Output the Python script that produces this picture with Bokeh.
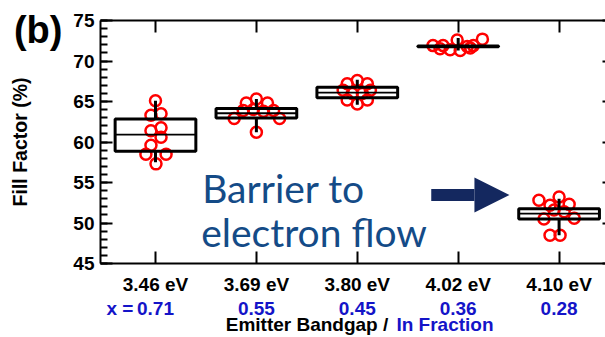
import numpy as np
from bokeh.plotting import figure
from bokeh.models import (Range1d, LinearAxis, FixedTicker, Label,
                          ColumnDataSource, Arrow, NormalHead, CustomJSTickFormatter)
from bokeh.embed import file_html
from bokeh.resources import INLINE

# ---------------- data ----------------
bandgaps = ["3.46 eV", "3.69 eV", "3.80 eV", "4.02 eV", "4.10 eV"]
in_fraction = ["0.71", "0.55", "0.45", "0.36", "0.28"]
positions = [1, 2, 3, 4, 5]

ff_346 = [65.1, 63.3, 63.5, 61.4, 61.75, 60.6, 59.6, 58.5, 58.5, 57.3]
jit_346 = [0.0, -0.045, 0.055, -0.045, 0.055, 0.055, -0.045, -0.095, 0.105, 0.005]
ff_369 = [65.3, 64.8, 64.8, 63.9, 64.0, 63.8, 63.9, 62.9, 62.9, 61.2]
jit_369 = [0.0, -0.10, 0.11, -0.13, -0.03, 0.07, 0.17, -0.22, 0.23, 0.0]
ff_380 = [67.6, 67.2, 67.2, 66.4, 66.4, 66.0, 66.0, 65.2, 65.2, 64.7]
jit_380 = [0.0, -0.10, 0.10, -0.14, 0.13, -0.05, 0.05, -0.10, 0.10, 0.0]
ff_402 = [72.6, 72.7, 71.9, 71.9, 71.8, 71.9, 71.5, 71.4, 71.3, 71.6]
jit_402 = [-0.01, 0.24, -0.25, -0.15, 0.09, 0.15, -0.18, -0.08, 0.02, 0.12]
ff_410 = [53.2, 52.8, 52.2, 52.3, 51.6, 51.4, 50.5, 50.6, 48.5, 48.5]
jit_410 = [0.0, -0.20, -0.09, 0.10, -0.05, 0.05, -0.15, 0.15, -0.09, 0.01]

q1 = [58.85, 62.95, 65.45, 71.75, 50.5]
median = [60.9, 63.55, 66.1, 71.8, 51.15]
q3 = [62.85, 64.15, 66.75, 71.85, 51.75]
whisk_lo = [57.5, 61.2, 64.6, 71.3, 48.5]
whisk_hi = [65.1, 65.3, 67.7, 72.85, 53.0]

y_ticks = [45, 50, 55, 60, 65, 70, 75]
y_minor = list(range(45, 76))

# text anchors placed on invisible axes (axis coordinates)
x_eq_pos = 0.648          # "x =" prefix of the In-fraction row
title_black_pos = 2.5016  # "Emitter Bandgap /"
title_blue_pos = 3.869    # "In Fraction"
panel_tag_pos = 73.83     # "(b)" on an outer left axis

# arrow (data units)
arrow_x0, arrow_x1, arrow_y = 3.733, 4.508, 53.46

BOX_W = 0.8
RED = "#ff0000"
BLUE = "#1414c8"
NAVY = "#14285f"
TXT_BLUE = "#144b87"
FONT = "Liberation Sans"
FS = "19px"

p = figure(width=605, height=337, x_range=Range1d(0.455, 5.46), y_range=Range1d(45, 75),
           output_backend="svg", toolbar_location=None,
           x_axis_type=None, y_axis_type=None,
           min_border_left=100, min_border_right=0, min_border_top=20, min_border_bottom=74)
p.outline_line_color = None
p.background_fill_color = "white"
p.border_fill_color = "white"

blank = CustomJSTickFormatter(code="return ''")


def hidden_axis(ticks, labels, color, size, standoff, **kw):
    return LinearAxis(ticker=FixedTicker(ticks=ticks, minor_ticks=[]),
                      major_label_overrides={float(k): v for k, v in zip(ticks, labels)},
                      axis_line_color=None, major_tick_line_color=None, minor_tick_line_color=None,
                      major_tick_in=0, major_tick_out=0, minor_tick_in=0, minor_tick_out=0,
                      major_label_standoff=standoff, major_label_text_font=FONT,
                      major_label_text_font_style="bold", major_label_text_font_size=size,
                      major_label_text_color=color, **kw)


# ---------------- axes ----------------
ly = LinearAxis(ticker=FixedTicker(ticks=y_ticks, minor_ticks=y_minor),
                axis_line_width=2, major_tick_line_width=2, minor_tick_line_width=2,
                major_tick_in=12, major_tick_out=0, minor_tick_in=7, minor_tick_out=0,
                major_label_text_font=FONT, major_label_text_font_style="bold",
                major_label_text_font_size=FS, major_label_standoff=6,
                major_label_text_color="black")
p.add_layout(ly, "left")

# outer left axis: panel tag "(b)" and the y-axis title
ly2 = hidden_axis([panel_tag_pos], ["(b)"], "black", "38px", 8,
                  axis_label="Fill Factor (%)", axis_label_text_font=FONT,
                  axis_label_text_font_style="bold", axis_label_text_font_size="19.5px",
                  axis_label_text_color="black", axis_label_standoff=-20)
p.add_layout(ly2, "left")

bx = LinearAxis(ticker=FixedTicker(ticks=positions, minor_ticks=[]),
                major_label_overrides={float(k): v for k, v in zip(positions, bandgaps)},
                axis_line_width=2, major_tick_line_width=2,
                major_tick_in=12, major_tick_out=0, minor_tick_line_color=None,
                major_label_standoff=10, major_label_text_font=FONT,
                major_label_text_font_style="bold", major_label_text_font_size=FS,
                major_label_text_color="black")
p.add_layout(bx, "below")

# In-fraction row (blue), including the "x =" prefix
bx2 = hidden_axis(positions + [x_eq_pos], in_fraction + ["x ="], BLUE, FS, 0)
p.add_layout(bx2, "below")

# axis title row: black part, then blue part drawn on the same line
bx3 = hidden_axis([title_black_pos], ["Emitter Bandgap /"], "black", FS, -8)
p.add_layout(bx3, "below")
bx4 = hidden_axis([title_blue_pos], ["In Fraction"], BLUE, FS, -24)
p.add_layout(bx4, "below")

tx = LinearAxis(ticker=FixedTicker(ticks=positions, minor_ticks=[]), formatter=blank,
                axis_line_width=2, major_tick_line_width=2,
                major_tick_in=12, major_tick_out=0, minor_tick_line_color=None,
                major_label_standoff=0)
p.add_layout(tx, "above")

ry = LinearAxis(ticker=FixedTicker(ticks=y_ticks, minor_ticks=[]), formatter=blank,
                axis_line_color=None, major_tick_line_width=2,
                major_tick_in=3, major_tick_out=0, minor_tick_line_color=None,
                major_label_standoff=0)
p.add_layout(ry, "right")

# ---------------- points ----------------
groups = [(ff_346, jit_346), (ff_369, jit_369), (ff_380, jit_380), (ff_402, jit_402), (ff_410, jit_410)]
for pos, (vals, jit) in zip(positions, groups):
    xs = [pos + j for j in jit]
    p.scatter(x=xs, y=vals, marker="circle", size=11, fill_color=None,
              line_color=RED, line_width=2.5)

# ---------------- boxes ----------------
pos_arr = np.array(positions, dtype=float)
box_src = ColumnDataSource(dict(left=pos_arr - BOX_W / 2, right=pos_arr + BOX_W / 2, x=pos_arr,
                                q1=q1, q3=q3, med=median, lo=whisk_lo, hi=whisk_hi))
p.segment(x0="x", x1="x", y0="q3", y1="hi", source=box_src, line_color="black", line_width=3)
p.segment(x0="x", x1="x", y0="q1", y1="lo", source=box_src, line_color="black", line_width=3)
p.quad(left="left", right="right", bottom="q1", top="q3", source=box_src,
       fill_color=None, line_color="black", line_width=3)
p.segment(x0="left", x1="right", y0="med", y1="med", source=box_src, line_color="black", line_width=1.8)

# ---------------- arrow ----------------
p.add_layout(Arrow(end=NormalHead(size=35, fill_color=NAVY, line_color=NAVY, line_width=0),
                   x_start=arrow_x0, y_start=arrow_y, x_end=arrow_x1, y_end=arrow_y,
                   line_color=NAVY, line_width=12))

# in-plot annotation (screen units, relative to plot frame)
p.add_layout(Label(x=101.7, y=76, x_units="screen", y_units="screen", text="Barrier to",
                   text_align="left", text_baseline="alphabetic",
                   text_font="Lato", text_font_size="39px", text_color=TXT_BLUE))
p.add_layout(Label(x=100.7, y=31.3, x_units="screen", y_units="screen", text="electron flow",
                   text_align="left", text_baseline="alphabetic",
                   text_font="Lato", text_font_size="39px", text_color=TXT_BLUE))

open("out.html", "w").write(file_html(p, INLINE))
